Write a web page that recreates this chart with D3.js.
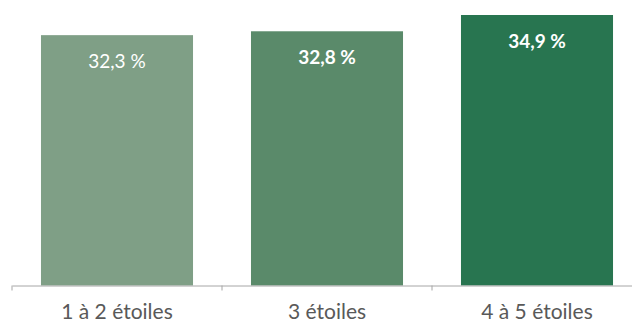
<!DOCTYPE html>
<html><head><meta charset="utf-8">
<script src="https://cdn.jsdelivr.net/npm/d3@7"></script>
<style>body{margin:0;background:#fff;}svg{display:block;}</style>
</head><body>
<script>
const categories = ["1 à 2 étoiles", "3 étoiles", "4 à 5 étoiles"];
const values = [32.3, 32.8, 34.9];
const labels = ["32,3 %", "32,8 %", "34,9 %"];
const colors = ["#7f9f86", "#5a8a6a", "#287550"];
const bold = [false, true, true];

const W = 632, H = 323;
const svg = d3.select("body").append("svg").attr("width", W).attr("height", H);
const x = d3.scaleBand().domain(categories).range([12, 642]).paddingInner(0.276).paddingOuter(0.138);
const y = d3.scaleLinear().domain([0, 34.9]).range([285.5, 15]);

svg.selectAll("rect.bar").data(values).enter().append("rect")
  .attr("x", (d,i) => x(categories[i]))
  .attr("y", d => y(d))
  .attr("width", x.bandwidth())
  .attr("height", d => y(0) - y(d))
  .attr("fill", (d,i) => colors[i]);

svg.selectAll("text.val").data(values).enter().append("text")
  .attr("x", (d,i) => x(categories[i]) + x.bandwidth()/2)
  .attr("y", d => y(d) + 33)
  .attr("text-anchor", "middle")
  .attr("fill", "#fff")
  .attr("font-family", "Lato, 'Open Sans', sans-serif")
  .attr("font-size", 19)
  .attr("font-weight", (d,i) => bold[i] ? "bold" : "normal")
  .text((d,i) => labels[i]);

const xAxis = d3.axisBottom(x).tickSize(0).tickSizeOuter(0).tickPadding(0);
const g = svg.append("g").attr("transform", `translate(0,${y(0)})`).call(xAxis);
g.select(".domain").attr("stroke", "#a6a6a6");
g.selectAll("text").attr("font-family", "Lato, 'Open Sans', sans-serif").attr("font-size", 21)
  .attr("fill", "#595959").attr("y", 33).attr("dy", 0);
// boundary ticks between categories
const step = x.step();
const bounds = [0,1,2,3].map(i => 12 + i*step);
g.selectAll("line.sep").data(bounds).enter().append("line")
  .attr("x1", d => d).attr("x2", d => d).attr("y1", 0).attr("y2", 5)
  .attr("stroke", "#a6a6a6");
</script>
</body></html>
